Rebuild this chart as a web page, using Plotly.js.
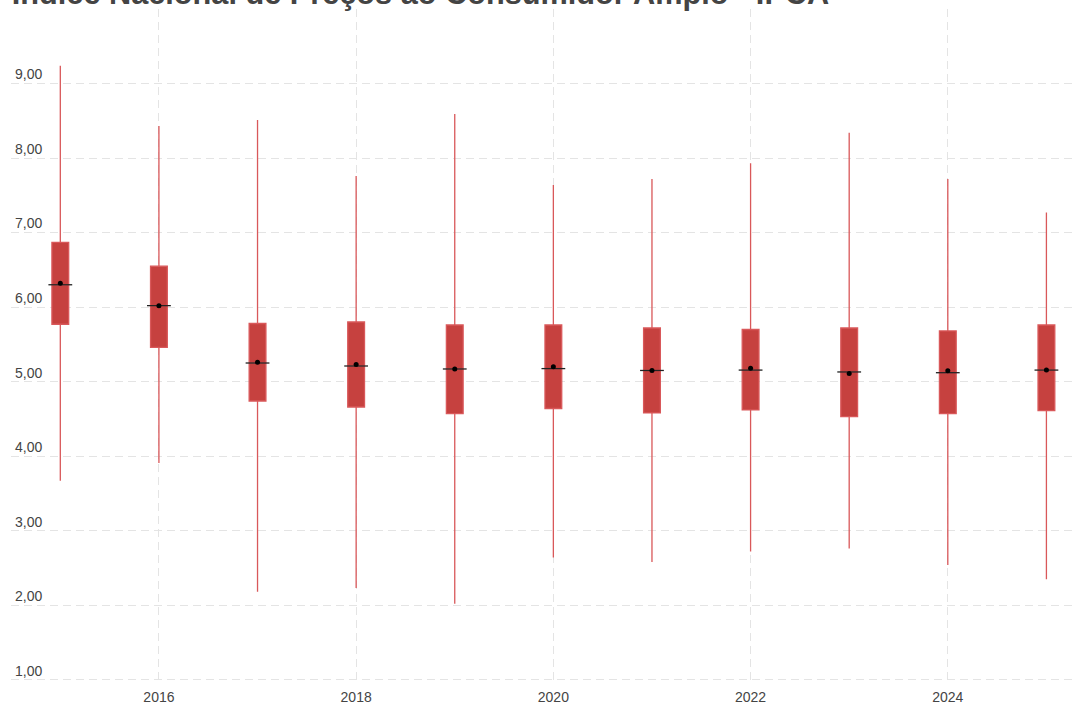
<!DOCTYPE html>
<html>
<head>
<meta charset="utf-8">
<script src="https://cdn.plot.ly/plotly-3.0.1.min.js"></script>
<style>
  html, body { margin: 0; padding: 0; background: #ffffff; overflow: hidden; }
  #chart { width: 1076px; height: 714px; margin-top: -7px; }
</style>
</head>
<body>
<div id="chart"></div>
<script>
// Data (IPCA expectations distribution by year)
const years   = [2015, 2016, 2017, 2018, 2019, 2020, 2021, 2022, 2023, 2024, 2025];
const maxVals = [9.24, 8.43, 8.51, 7.76, 8.59, 7.64, 7.72, 7.93, 8.34, 7.72, 7.27];
const q3Vals  = [6.87, 6.55, 5.78, 5.80, 5.76, 5.76, 5.72, 5.70, 5.72, 5.68, 5.76];
const medVals = [6.30, 6.02, 5.25, 5.21, 5.17, 5.175, 5.15, 5.155, 5.13, 5.12, 5.155];
const meanVals= [6.32, 6.02, 5.26, 5.23, 5.17, 5.20, 5.15, 5.18, 5.11, 5.145, 5.155];
const q1Vals  = [5.77, 5.46, 4.74, 4.66, 4.57, 4.64, 4.58, 4.62, 4.53, 4.57, 4.61];
const minVals = [3.67, 3.91, 2.18, 2.23, 2.02, 2.64, 2.58, 2.72, 2.76, 2.54, 2.35];
const yTicks  = [1, 2, 3, 4, 5, 6, 7, 8, 9, 10];
const xTicks  = [2016, 2018, 2020, 2022, 2024];
const titleText = 'Índice Nacional de Preços ao Consumidor Amplo - IPCA';

const boxTrace = {
  type: 'box',
  x: years,
  q1: q1Vals,
  median: medVals,
  q3: q3Vals,
  lowerfence: minVals,
  upperfence: maxVals,
  width: 0.17,
  whiskerwidth: 0,
  boxpoints: false,
  fillcolor: '#c6413f',
  line: { color: '#d9585a', width: 1.3 },
  hoverinfo: 'skip',
  showlegend: false
};

const medianTrace = {
  type: 'scatter',
  mode: 'markers',
  x: years,
  y: medVals,
  marker: { symbol: 'line-ew', size: 17, color: '#222', line: { color: '#222', width: 1.3 } },
  hoverinfo: 'skip',
  showlegend: false
};

const meanTrace = {
  type: 'scatter',
  mode: 'markers',
  x: years,
  y: meanVals,
  marker: { symbol: 'circle', size: 5, color: '#000' },
  hoverinfo: 'skip',
  showlegend: false
};

const gridStyle = { showgrid: true, gridcolor: '#e4e4e4', gridwidth: 1, griddash: '8px,5px' };

const layout = {
  width: 1076,
  height: 714,
  separators: ',.',
  paper_bgcolor: '#ffffff',
  plot_bgcolor: '#ffffff',
  margin: { l: 11, r: 0, t: 16, b: 25, pad: 0 },
  font: { family: 'Liberation Sans, Arial, sans-serif', size: 14, color: '#444' },
  title: {
    text: titleText,
    font: { family: 'Liberation Sans, Arial, sans-serif', size: 30.7, weight: 'bold', color: '#444' },
    xref: 'container', x: 0.011, xanchor: 'left',
    yref: 'container', y: 1, yanchor: 'middle'
  },
  xaxis: Object.assign({
    range: [2014.5, 2025.3],
    tickmode: 'array',
    tickvals: xTicks,
    ticktext: xTicks.map(String),
    ticks: '',
    showline: false,
    zeroline: false,
    ticklabelstandoff: 5,
    tickfont: { size: 14, color: '#444' }
  }, gridStyle),
  yaxis: Object.assign({
    range: [0.97, 10],
    tickmode: 'array',
    tickvals: yTicks,
    tickformat: '.2f',
    ticks: '',
    showline: false,
    zeroline: false,
    ticklabelposition: 'inside',
    ticklabelshift: -9,
    ticklabelstandoff: 1,
    tickfont: { size: 14, color: '#444' }
  }, gridStyle),
  showlegend: false
};

Plotly.newPlot('chart', [boxTrace, medianTrace, meanTrace], layout, { displayModeBar: false, staticPlot: true });
</script>
</body>
</html>
